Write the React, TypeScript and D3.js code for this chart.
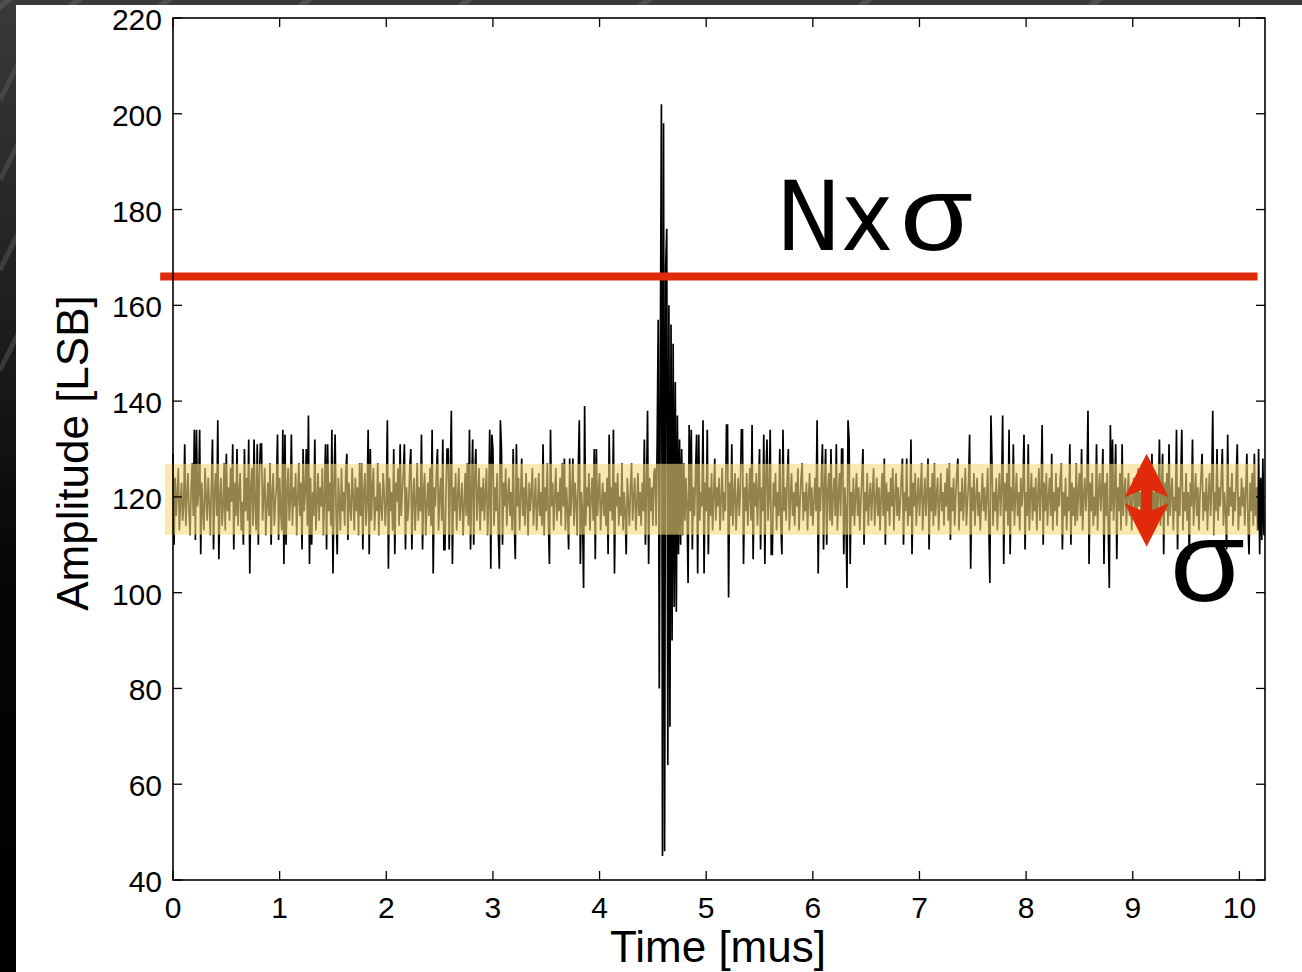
import React from "react";
import * as d3 from "d3";

// ---- Data (ADC samples, 10 ns spacing, LSB) ----
const seg0 = [129,110,124,116,121,126,113,119,123,115,118,131,114,120,125,117,
112,122,127,116,134,111,134,118,121,134,108,123,117,113,126,120,
115,124,119,112,122,132,109,121,125,116,136,107,120,124,114,118,
127,113,129,117,122,115,126,119,131,109,123,116,130,114,121,125,
113,119,110,130,117,124,115,132,104,122,126,114,132,118,113,131,
110,124,131,131,115,120,126,112,118,123,116,127,110,121,125,114,
119,122,133,111,124,117,113,134,106,133,110,121,126,115,119,133,
114,122,118,125,112,120,127,116,123,109,130,117,121,130,114,137];
const seg1 = [106,124,110,121,116,132,113,119,125,115,122,118,126,112,120,131,
109,131,117,123,114,134,104,122,133,116,108,124,119,113,126,117,
121,114,125,129,111,123,118,115,126,120,113,124,117,122,112,127,
116,127,109,121,125,114,119,134,108,130,115,122,126,113,120,117,
127,112,123,118,115,125,121,114,119,136,105,124,117,121,113,130,
108,123,119,126,114,131,116,121,125,131,109,122,115,118,126,130,
109,120,124,113,119,127,115,122,117,133,109,121,125,112,118,123,
116,126,114,134,104,122,118,125,130,113,120,124,115,132,109,109];
const seg2 = [121,130,130,109,124,138,106,122,117,125,113,120,126,115,119,123,
112,118,125,116,127,114,134,109,121,132,110,124,130,115,120,126,
113,122,117,124,115,121,126,112,119,134,105,133,130,114,122,117,
125,113,105,136,130,110,123,118,126,114,120,124,116,121,113,130,
115,107,131,118,124,113,120,128,116,122,114,125,119,112,123,117,
121,126,114,119,124,113,118,125,116,121,114,131,112,122,117,127,
115,106,134,118,123,113,120,126,115,121,117,124,114,127,118,128,
113,122,117,109,128,116,121,128,114,123,119,112,125,136,106,121];
const seg3 = [117,101,139,114,122,118,125,113,120,124,115,130,107,130,116,121,
125,113,119,123,116,121,114,124,108,133,117,122,115,134,104,123,
118,125,114,120,116,127,113,121,117,108,124,119,114,122,127,115,
120,124,113,118,125,116,121,114,123,117,132,110,121,138,106,124,
117,122,114,125,126,114,131,157,80,150,202,45,198,46,168,176,
64,160,72,156,90,152,97,144,96,137,108,132,110,130,112,127,
115,124,118,102,135,117,134,109,122,116,125,133,104,133,115,121,
118,136,104,123,117,134,108,122,116,125,113,120,128,115,122,118];
const seg4 = [124,113,120,126,115,121,117,135,135,99,123,116,131,114,120,125,
113,119,124,116,121,134,134,106,122,117,125,114,120,126,115,135,
107,123,118,125,114,121,130,109,122,117,133,106,124,132,115,120,
134,108,108,123,118,125,113,121,116,130,114,108,134,117,122,115,
124,130,113,120,125,116,121,114,123,118,126,113,119,124,127,115,
121,117,123,113,120,125,116,122,114,119,124,117,136,104,122,117,
124,131,109,122,130,110,121,125,115,130,114,120,124,116,131,113,
120,125,116,130,130,108,122,117,101,136,132,106,121,116,124,114];
const seg5 = [120,125,116,122,113,119,124,130,110,121,117,125,114,120,123,115,
121,126,114,119,124,116,122,113,120,125,116,128,110,123,117,121,
114,124,118,126,113,120,125,116,122,115,119,124,128,110,121,117,
128,114,120,116,132,108,123,118,125,114,120,124,116,121,127,113,
119,124,116,121,128,109,122,117,125,114,127,116,120,124,113,119,
125,117,121,114,123,118,126,115,127,111,122,117,124,114,120,125,
128,113,121,117,124,115,120,126,114,119,123,133,105,122,117,125,
114,120,124,116,121,113,119,125,117,122,115,120,126,114,102,137];
const seg6 = [127,114,121,117,124,113,120,125,116,122,137,106,123,117,125,114,
134,108,122,117,131,114,120,125,116,121,113,124,118,122,133,109,
121,116,131,113,120,125,115,122,117,124,113,120,126,115,121,135,
110,123,117,125,114,120,124,116,129,113,121,117,125,114,122,118,
124,127,109,121,116,124,113,120,117,131,110,123,116,122,114,127,
115,121,125,116,130,113,120,124,117,122,138,106,123,117,125,114,
120,116,131,113,121,125,117,122,130,106,123,116,125,114,101,135,
117,132,115,121,131,107,122,117,125,113,131,116,121,124,114,120];
const seg7 = [125,116,122,113,120,124,117,122,114,126,118,121,115,124,119,112,
123,117,125,114,121,116,129,113,121,117,124,115,120,132,114,122,
129,108,123,117,125,114,131,116,121,124,113,120,117,134,109,122,
116,124,134,113,121,117,125,115,121,107,123,118,132,114,120,125,
116,122,113,120,124,129,115,121,117,124,113,120,125,116,122,138,
112,121,117,130,115,122,118,124,130,114,121,117,109,133,116,122,
118,125,114,121,117,124,131,113,120,116,124,118,122,114,121,129,
115,108,123,117,125,114,129,116,122,113,130,108,124,111,128,112];

const sampleStep = 0.01; // µs
const timeMax = 10.24;

// axes ticks
const xTicks = [0, 1, 2, 3, 4, 5, 6, 7, 8, 9, 10];
const yTicks = [40, 60, 80, 100, 120, 140, 160, 180, 200, 220];

// annotations (data units)
const baselineMean = 119.5;
const sigma = 7.4;
const threshold = 166;
const bandStart = -0.075;
const bandEnd = 10.17;
const lineStart = -0.12;
const lineEnd = 10.17;
const arrowTime = 9.13;
const arrowTop = 129;
const arrowBottom = 109.6;

const amplitude = [...seg0, ...seg1, ...seg2, ...seg3, ...seg4, ...seg5, ...seg6, ...seg7];

const W = 1302;
const H = 972;
const L = 173, R = 1265, T = 18, B = 880;
const RED = "#e02a0a";

export default function App() {
  const x = d3.scaleLinear().domain([0, timeMax]).range([L, R]);
  const y = d3.scaleLinear().domain([40, 220]).range([B, T]);
  const line = d3
    .line<number>()
    .x((_, i) => x(i * sampleStep))
    .y((d) => y(d));
  const signalPath = line(amplitude) || "";

  const ax = x(arrowTime);
  const at = y(arrowTop);
  const ab = y(arrowBottom);
  const mid = (at + ab) / 2;
  const hw = 22, sw = 5.5;
  const arrowPts = [
    [ax, at],
    [ax + hw, mid - 3],
    [ax + sw, mid - 10],
    [ax + sw, mid + 10],
    [ax + hw, mid + 3],
    [ax, ab],
    [ax - hw, mid + 3],
    [ax - sw, mid + 10],
    [ax - sw, mid - 10],
    [ax - hw, mid - 3],
  ]
    .map((p) => p.join(","))
    .join(" ");

  const tickLen = 9;
  const font = "'Liberation Sans', Arial, Helvetica, sans-serif";

  return (
    <div style={{ position: "fixed", left: 0, top: 0, width: W, height: H }}>
      <svg width={W} height={H} style={{ display: "block" }}>
        <defs>
          <linearGradient id="bg" x1="0" y1="0" x2="0" y2="1">
            <stop offset="0" stopColor="#3a3a3a" />
            <stop offset="0.35" stopColor="#1c1c1c" />
            <stop offset="0.6" stopColor="#050505" />
            <stop offset="1" stopColor="#000" />
          </linearGradient>
        </defs>
        <rect x={0} y={0} width={W} height={H} fill="url(#bg)" />
        {[-40, 30, 120, 260, 420, 600, 820, 1050].map((o, k) => (
          <line key={k} x1={o} y1={40} x2={o + 60} y2={-10} stroke="#6a6a6a" strokeWidth={6} opacity={0.45} />
        ))}
        {[60, 140, 230, 330].map((o, k) => (
          <line key={"l" + k} x1={0} y1={o + 40} x2={20} y2={o} stroke="#5a5a5a" strokeWidth={5} opacity={0.5} />
        ))}
        <rect x={16} y={5} width={W - 16} height={H - 5} fill="#fff" />

        {/* signal */}
        <path d={signalPath} fill="none" stroke="#000" strokeWidth={1.7} strokeLinejoin="miter" />

        {/* sigma band */}
        <rect
          x={x(bandStart)}
          y={y(baselineMean + sigma)}
          width={x(bandEnd) - x(bandStart)}
          height={y(baselineMean - sigma) - y(baselineMean + sigma)}
          fill="#f5d97a"
          opacity={0.6}
        />

        {/* threshold line */}
        <line x1={x(lineStart)} x2={x(lineEnd)} y1={y(threshold)} y2={y(threshold)} stroke={RED} strokeWidth={8} />

        {/* axes box */}
        <rect x={L} y={T} width={R - L} height={B - T} fill="none" stroke="#000" strokeWidth={1.6} />
        {xTicks.map((t) => (
          <g key={"x" + t}>
            <line x1={x(t)} x2={x(t)} y1={B} y2={B - tickLen} stroke="#000" strokeWidth={1.3} />
            <line x1={x(t)} x2={x(t)} y1={T} y2={T + tickLen} stroke="#000" strokeWidth={1.3} />
            <text x={x(t)} y={918} textAnchor="middle" fontFamily={font} fontSize={30} fill="#000">
              {t}
            </text>
          </g>
        ))}
        {yTicks.map((t) => (
          <g key={"y" + t}>
            <line x1={L} x2={L + tickLen} y1={y(t)} y2={y(t)} stroke="#000" strokeWidth={1.3} />
            <line x1={R} x2={R - tickLen} y1={y(t)} y2={y(t)} stroke="#000" strokeWidth={1.3} />
            <text x={162} y={y(t) + 12} textAnchor="end" fontFamily={font} fontSize={30} fill="#000">
              {t}
            </text>
          </g>
        ))}

        {/* axis labels */}
        <text x={718} y={962} textAnchor="middle" fontFamily={font} fontSize={44} fill="#000">
          Time [mus]
        </text>
        <text
          transform={`translate(88,453) rotate(-90)`}
          textAnchor="middle"
          fontFamily={font}
          fontSize={44}
          fill="#000"
        >
          Amplitude [LSB]
        </text>

        {/* annotations */}
        <text x={776} y={250} fontFamily="'DejaVu Sans', sans-serif" fontSize={96} textLength={117} lengthAdjust="spacingAndGlyphs" fill="#000">
          Nx
        </text>
        <text x={900} y={250} fontFamily={font} fontSize={106} textLength={73} lengthAdjust="spacingAndGlyphs" fill="#000">
          σ
        </text>
        <polygon points={arrowPts} fill={RED} />
        <text x={1170} y={601} fontFamily={font} fontSize={115} textLength={75} lengthAdjust="spacingAndGlyphs" fill="#000">
          σ
        </text>
      </svg>
    </div>
  );
}
